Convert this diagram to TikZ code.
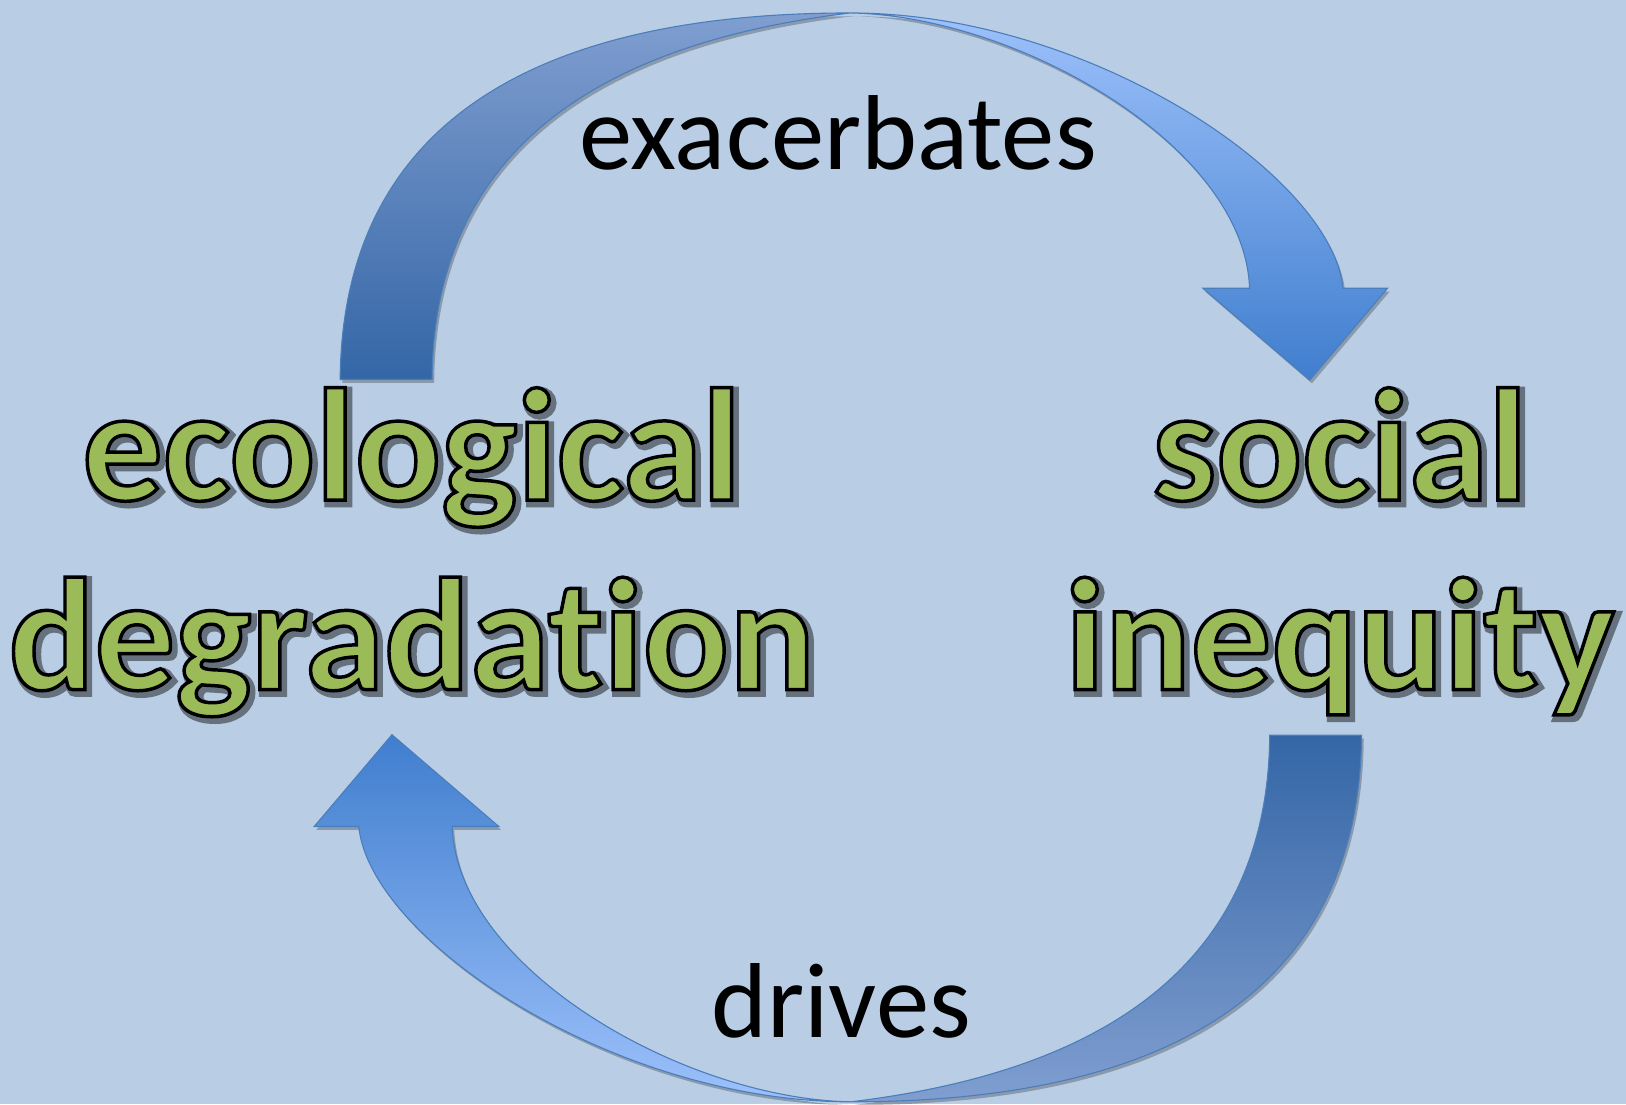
\documentclass[tikz,border=0pt]{standalone}
\usepackage{fontspec}
\setmainfont{Carlito}[Ligatures=NoCommon]
\usetikzlibrary{shadows}

\definecolor{bgcol}{RGB}{185,205,229}
\definecolor{leaf}{RGB}{155,187,89}
\definecolor{edgeblue}{RGB}{74,126,187}
\definecolor{backtop}{RGB}{128,158,208}
\definecolor{backbot}{RGB}{52,102,166}
\definecolor{fronttop}{RGB}{157,193,251}
\definecolor{frontbot}{RGB}{64,126,206}
\definecolor{textshade}{RGB}{102,113,126}

% fill and stroke the glyphs: width, stroke colour, text
\newcommand{\stroked}[3]{\special{pdf:literal direct #1 w #2 RG 2 Tr}#3\special{pdf:literal direct 0 Tr}}
\newcommand{\outlined}[1]{\stroked{1.9}{0 0 0}{#1}}
\newcommand{\blurred}[1]{\stroked{4.5}{0.4 0.443 0.494}{#1}}

\begin{document}
\begin{tikzpicture}[x=0.02cm,y=-0.02cm,
  band/.style={draw=edgeblue,line width=0.6pt,
    drop shadow={shadow xshift=1.2pt,shadow yshift=-1.8pt,opacity=0.25,fill=black}},
  topic/.style={align=center,inner sep=0pt,anchor=base,
    font=\fontsize{88}{104}\selectfont\bfseries,text=leaf},
  topicshade/.style={topic,text=textshade},
  verb/.style={inner sep=0pt,anchor=base,font=\fontsize{58.5}{62}\selectfont}
  ]
  \path[use as bounding box,fill=bgcol] (0,0) rectangle (1568,1065);

  % exacerbates
  \coordinate (apex) at (820,12.5);
  \path[band,top color=backtop,bottom color=backbot]
    (328,366) .. controls (330,130) and (500,12.5) .. (apex)
    .. controls (550,45) and (418,165) .. (416.6,366) -- cycle;
  \path[band,top color=fronttop,bottom color=frontbot]
    (apex) .. controls (1050,12.5) and (1285,170) .. (1295,278)
    -- (1338,278) -- (1263,366.5) -- (1160,278) -- (1205,278)
    .. controls (1200,140) and (980,15) .. (apex) -- cycle;

  % drives
  \coordinate (nadir) at (820.5,1062.5);
  \path[band,top color=backbot,bottom color=backtop]
    (1313,709) .. controls (1311,945) and (1141,1062.5) .. (nadir)
    .. controls (1091,1030) and (1223,910) .. (1224.4,709) -- cycle;
  \path[band,top color=frontbot,bottom color=fronttop]
    (nadir) .. controls (591,1062.5) and (356,905) .. (346,797)
    -- (303,797) -- (378,708.5) -- (481,797) -- (436,797)
    .. controls (441,935) and (661,1060) .. (nadir) -- cycle;

  \node[verb] (exac) at (808,163) {exacerbates};
  \node[verb] (drv) at (811,1000) {drives};

  \node[topicshade] (ecoshade) at (400,668) {\blurred{ecological}\\\blurred{degradation}};
  \node[topicshade] (socshade) at (1295,668) {\blurred{social}\\\blurred{inequity}};
  \node[topic] (eco) at (397,665) {\outlined{ecological}\\\outlined{degradation}};
  \node[topic] (soc) at (1292,665) {\outlined{social}\\\outlined{inequity}};
\end{tikzpicture}
\end{document}
